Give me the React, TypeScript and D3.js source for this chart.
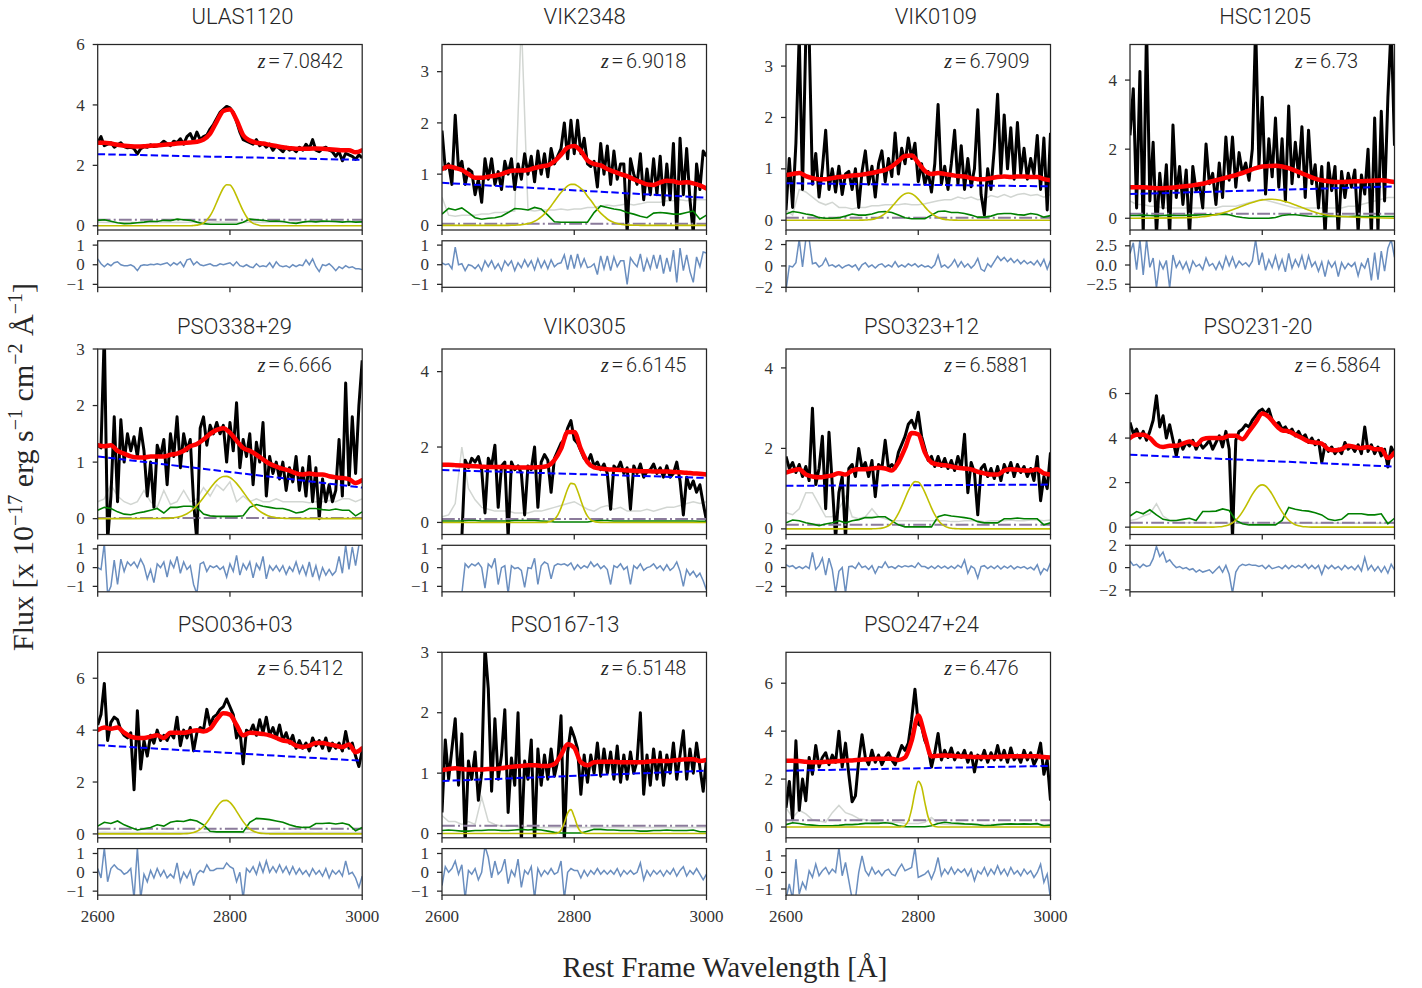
import React from "react";
import * as d3 from "d3";

// ---------------- grids (wavelength sampling of the arrays) ----------------
const WAVE_MIN = 2600;
const WAVE_MAX = 3000;
const FLUX_STEP = 5; // flux & residual arrays
const MODEL_STEP = 10; // model, error, Fe arrays
const MG_START = 2700; // Mg II gaussian arrays
const MG_STEP = 5;

// ---------------- panel meta ----------------
const names = ["ULAS1120", "VIK2348", "VIK0109", "HSC1205", "PSO338+29", "VIK0305", "PSO323+12", "PSO231-20", "PSO036+03", "PSO167-13", "PSO247+24"];
const redshifts = ["7.0842", "6.9018", "6.7909", "6.73", "6.666", "6.6145", "6.5881", "6.5864", "6.5412", "6.5148", "6.476"];
const yLims = [[-0.14, 6.0], [-0.09, 3.53], [-0.19, 3.42], [-0.34, 5.03], [-0.28, 3.0], [-0.32, 4.6], [-0.14, 4.47], [-0.33, 8.0], [-0.15, 7.0], [-0.07, 3.0], [-0.45, 7.29]];
const yTicks = [[0, 2, 4, 6], [0, 1, 2, 3], [0, 1, 2, 3], [0, 2, 4], [0, 1, 2, 3], [0, 2, 4], [0, 2, 4], [0, 2, 4, 6], [0, 2, 4, 6], [0, 1, 2, 3], [0, 2, 4, 6]];
const resLims = [[-1.15, 1.22], [-1.15, 1.22], [-2.0, 2.35], [-2.9, 3.15], [-1.29, 1.19], [-1.29, 1.19], [-2.57, 2.36], [-2.17, 2.0], [-1.21, 1.26], [-1.21, 1.26], [-1.37, 1.44]];
const resTicks = [[-1, 0, 1], [-1, 0, 1], [-2, 0, 2], [-2.5, 0, 2.5], [-1, 0, 1], [-1, 0, 1], [-2, 0, 2], [-2, 0, 2], [-1, 0, 1], [-1, 0, 1], [-1, 0, 1]];
const xTicks = [2600, 2800, 3000];
const continua = [[2.37, 2.18], [0.83, 0.54], [0.72, 0.66], [0.7, 0.92], [1.1, 0.55], [1.39, 1.18], [1.07, 1.1], [3.25, 2.72], [3.42, 2.82], [0.87, 1.04], [2.35, 2.55]];
const balmerLevels = [0.2, 0.03, 0.05, 0.13, 0.01, 0.09, 0.1, 0.2, 0.2, 0.13, 0.28];

// ---------------- ULAS1120 ----------------
const ulasFlux = [
  2.75, 2.95, 2.65, 2.7, 2.75, 2.6, 2.68, 2.75, 2.62, 2.58,
  2.6, 2.55, 2.38, 2.55, 2.62, 2.6, 2.68, 2.62, 2.65, 2.7,
  2.8, 2.72, 2.65, 2.8, 2.75, 2.88, 2.7, 2.95, 3.05, 2.8,
  3.1, 2.85, 2.95, 3.0, 3.2, 3.35, 3.55, 3.75, 3.85, 3.95,
  3.9, 3.75, 3.45, 3.1, 2.85, 2.8, 2.75, 2.7, 2.85, 2.65,
  2.72, 2.6, 2.7, 2.5, 2.65, 2.55, 2.45, 2.6, 2.5, 2.55,
  2.45, 2.6, 2.5, 2.7, 2.55, 2.85, 2.5, 2.45, 2.55, 2.6,
  2.5, 2.45, 2.3, 2.45, 2.15, 2.4, 2.35, 2.3, 2.2, 2.35,
  2.25];
const ulasResid = [
  0.3, 0.05, -0.1, 0.05, -0.05, 0.1, 0.15, 0, -0.05, -0.05,
  0, -0.1, -0.3, -0.05, 0, -0.02, 0.02, 0, 0.05, 0,
  0.05, 0.1, -0.05, 0.1, 0, 0.15, -0.1, 0.25, 0.3, 0,
  0.15, 0, -0.05, 0, 0.05, -0.05, -0.05, 0.05, 0, 0.05,
  0.1, -0.05, 0.15, -0.05, -0.1, 0, -0.1, -0.15, 0.05, -0.1,
  -0.05, -0.1, 0.1, -0.15, 0.15, -0.05, -0.1, -0.05, -0.15, 0,
  -0.1, 0, -0.05, 0.25, 0, 0.3, -0.1, -0.35, 0, -0.05,
  0.05, -0.1, -0.3, -0.1, -0.2, -0.05, -0.15, -0.1, -0.2, -0.2,
  -0.25];
const ulasModel = [2.75, 2.75, 2.72, 2.68, 2.65, 2.63, 2.62, 2.63, 2.65, 2.66, 2.68, 2.7, 2.72, 2.74, 2.76, 2.78, 2.85, 3.05, 3.45, 3.8, 3.85, 3.5, 3.0, 2.82, 2.75, 2.72, 2.68, 2.64, 2.6, 2.57, 2.55, 2.55, 2.55, 2.56, 2.55, 2.53, 2.52, 2.5, 2.5, 2.43, 2.5];
const ulasErr = [0.12, 0.11, 0.12, 0.1, 0.11, 0.12, 0.11, 0.1, 0.12, 0.11, 0.12, 0.11, 0.12, 0.11, 0.12, 0.13, 0.12, 0.12, 0.13, 0.12, 0.12, 0.12, 0.11, 0.12, 0.12, 0.11, 0.12, 0.12, 0.11, 0.12, 0.12, 0.12, 0.13, 0.12, 0.12, 0.13, 0.12, 0.13, 0.14, 0.13, 0.14];
const ulasFe = [0.18, 0.2, 0.15, 0.1, 0.07, 0.08, 0.1, 0.12, 0.15, 0.14, 0.18, 0.17, 0.22, 0.2, 0.18, 0.12, 0.07, 0.05, 0.05, 0.05, 0.05, 0.05, 0.12, 0.22, 0.2, 0.18, 0.15, 0.16, 0.14, 0.1, 0.08, 0.12, 0.15, 0.13, 0.16, 0.15, 0.14, 0.12, 0.14, 0.12, 0.13];
const ulasMg = [0, 0, 0, 0, 0, 0, 0, 0, 0, 0.01, 0.02, 0.04, 0.09, 0.19, 0.33, 0.53, 0.78, 1.03, 1.25, 1.36, 1.35, 1.21, 0.98, 0.73, 0.49, 0.3, 0.16, 0.08, 0.04, 0.01, 0, 0, 0, 0, 0, 0, 0, 0, 0, 0, 0];

// ---------------- VIK2348 ----------------
const v2348Flux = [
  1.85, 1.1, 1.2, 0.8, 2.15, 1.1, 1.25, 0.8, 1.1, 1.05,
  0.6, 0.9, 0.45, 1.3, 0.9, 1.3, 0.8, 1.05, 0.7, 1.25,
  1.0, 1.3, 0.7, 1.2, 0.9, 1.4, 1.0, 1.35, 0.85, 1.45,
  1.0, 1.4, 0.95, 1.5, 1.2, 1.35, 1.5, 2.0, 1.3, 2.05,
  1.4, 2.05, 1.4, 1.7, 1.2, 1.15, 1.25, 0.75, 1.6, 1.0,
  1.55, 0.8, 1.45, 0.9, 1.2, 1.2, -0.15, 1.3, 1.0, 0.8,
  1.4, 0.5, 1.1, 0.6, 1.3, 0.6, 1.35, 0.4, 1.2, 0.5,
  1.6, -0.15, 1.7, 0.6, 1.5, 0.5, -0.15, 1.2, 0.7, 1.45,
  1.35];
const v2348Resid = [
  0.1, 0, 0.05, -0.2, 0.9, 0, 0.05, -0.3, 0, -0.05,
  -0.2, 0, -0.3, 0.2, -0.1, 0.2, -0.2, 0.05, -0.3, 0.2,
  -0.05, 0.2, -0.3, 0.1, -0.15, 0.25, -0.1, 0.2, -0.25, 0.3,
  -0.15, 0.2, -0.2, 0.25, -0.1, 0.05, 0.1, 0.5, -0.25, 0.5,
  -0.2, 0.55, -0.1, 0.3, -0.15, -0.1, 0.05, -0.5, 0.45, -0.2,
  0.45, -0.3, 0.4, -0.1, 0.2, 0.2, -1.0, 0.35, 0.1, -0.1,
  0.55, -0.35, 0.3, -0.2, 0.5, -0.2, 0.5, -0.45, 0.35, -0.35,
  0.75, -0.9, 0.85, -0.3, 0.5, -0.35, -0.9, 0.4, -0.1, 0.65,
  0.6];
const v2348Model = [1.1, 1.15, 1.12, 1.08, 1.0, 0.93, 0.93, 0.95, 0.97, 1.0, 1.05, 1.07, 1.07, 1.08, 1.12, 1.15, 1.17, 1.25, 1.38, 1.52, 1.55, 1.45, 1.27, 1.2, 1.17, 1.1, 1.05, 1.0, 0.96, 0.9, 0.85, 0.8, 0.79, 0.84, 0.87, 0.86, 0.83, 0.84, 0.82, 0.78, 0.72];
const v2348Err = [0.55, 0.2, 0.18, 0.2, 0.2, 0.2, 0.22, 0.22, 0.25, 0.25, 0.27, 0.28, 4.0, 0.3, 0.28, 0.3, 0.3, 0.3, 0.32, 0.3, 0.32, 0.32, 0.35, 0.35, 0.38, 0.4, 0.38, 0.4, 0.42, 0.4, 0.42, 0.45, 0.45, 0.45, 0.48, 0.48, 0.5, 0.48, 0.5, 0.5, 0.5];
const v2348Fe = [0.22, 0.33, 0.3, 0.34, 0.25, 0.15, 0.12, 0.14, 0.15, 0.18, 0.25, 0.33, 0.32, 0.3, 0.35, 0.32, 0.2, 0.07, 0.06, 0.06, 0.06, 0.06, 0.06, 0.25, 0.38, 0.35, 0.32, 0.3, 0.25, 0.22, 0.18, 0.15, 0.24, 0.25, 0.24, 0.22, 0.22, 0.25, 0.28, 0.12, 0.2];
const v2348Mg = [0.001, 0.002, 0.004, 0.007, 0.012, 0.021, 0.034, 0.053, 0.08, 0.116, 0.165, 0.225, 0.3, 0.38, 0.47, 0.56, 0.64, 0.71, 0.77, 0.8, 0.8, 0.77, 0.72, 0.66, 0.57, 0.49, 0.4, 0.31, 0.24, 0.18, 0.125, 0.086, 0.057, 0.037, 0.023, 0.014, 0.008, 0.005, 0.003, 0.002, 0.001];

// ---------------- VIK0109 ----------------
const v0109Flux = [
  0.2, 1.2, 0.25, 1.5, 3.6, 0.6, 3.6, 3.6, 0.7, 1.3,
  0.45, 1.0, 1.75, 0.6, 1.0, 0.55, 1.05, 0.5, 0.9, 0.95,
  0.6, 1.0, 0.25, 0.95, 1.35, 0.7, 1.05, 0.45, 1.1, 1.35,
  0.75, 1.2, 0.85, 1.7, 0.9, 1.4, 1.1, 1.6, 1.2, 1.5,
  0.75, 1.1, 0.7, 0.95, 0.55, 1.1, 2.25, 0.7, 1.05, 0.6,
  1.1, 1.75, 0.7, 1.45, 0.6, 1.2, 0.65, 1.0, 2.15, 0.5,
  0.1, 1.0, 0.6, 1.4, 2.45, 0.9, 2.05, 1.0, 1.8, 0.8,
  1.9, 0.9, 1.4, 0.8, 1.2, 0.9, 1.65, 0.6, 1.6, 0.2,
  1.7];
const v0109Resid = [
  -2.3, 0, -0.1, 0.3, 2.5, -0.1, 2.5, 2.5, 0.2, 0.3,
  -0.1, 0.1, 0.7, 0, 0.1, -0.1, 0.1, -0.2, 0, 0.1,
  -0.1, 0.1, -0.4, 0.1, 0.3, -0.1, 0.1, -0.2, 0.1, 0.2,
  -0.1, 0.1, -0.1, 0.4, -0.1, 0.1, -0.1, 0.2, 0, 0.2,
  -0.1, 0.1, -0.1, 0, -0.2, 0.1, 1.0, -0.1, 0.1, -0.2,
  0.1, 0.6, -0.1, 0.4, -0.1, 0.2, -0.2, 0.1, 0.7, -0.3,
  -0.5, 0.2, -0.1, 0.4, 0.9, 0.5, 0.8, 0.4, 0.7, 0.3,
  0.6, 0.2, 0.5, 0.2, 0.4, 0.1, 0.5, 0, 0.6, -0.3,
  0.5];
const v0109Model = [0.88, 0.9, 0.92, 0.86, 0.82, 0.8, 0.8, 0.82, 0.84, 0.85, 0.87, 0.88, 0.9, 0.92, 0.95, 0.98, 1.05, 1.15, 1.25, 1.26, 1.12, 0.96, 0.9, 0.92, 0.9, 0.88, 0.86, 0.85, 0.82, 0.8, 0.8, 0.82, 0.84, 0.85, 0.84, 0.85, 0.85, 0.84, 0.84, 0.8, 0.78];
const v0109Err = [0.2, 0.1, 0.6, 0.55, 0.45, 0.35, 0.3, 0.35, 0.25, 0.25, 0.22, 0.25, 0.25, 0.28, 0.28, 0.3, 0.3, 0.3, 0.32, 0.3, 0.3, 0.32, 0.35, 0.38, 0.4, 0.4, 0.45, 0.42, 0.45, 0.4, 0.42, 0.48, 0.45, 0.5, 0.45, 0.5, 0.52, 0.48, 0.5, 0.45, 0.5];
const v0109Fe = [0.12, 0.17, 0.15, 0.12, 0.1, 0.05, 0.04, 0.04, 0.05, 0.08, 0.12, 0.1, 0.1, 0.12, 0.16, 0.17, 0.15, 0.1, 0.05, 0.03, 0.03, 0.03, 0.1, 0.17, 0.18, 0.15, 0.15, 0.13, 0.1, 0.06, 0.06, 0.08, 0.12, 0.13, 0.13, 0.11, 0.1, 0.13, 0.11, 0.06, 0.09];
const v0109Mg = [0, 0.0004, 0.001, 0.002, 0.004, 0.009, 0.017, 0.031, 0.053, 0.087, 0.132, 0.19, 0.26, 0.336, 0.41, 0.473, 0.515, 0.53, 0.515, 0.473, 0.41, 0.336, 0.26, 0.19, 0.132, 0.087, 0.053, 0.031, 0.017, 0.009, 0.004, 0.002, 0.001, 0, 0, 0, 0, 0, 0, 0, 0];

// ---------------- HSC1205 ----------------
const hscFlux = [
  2.4, 3.75, 0.3, 4.25, -0.5, 5.6, 0.5, 2.2, -0.5, 1.3,
  0.3, 1.55, -0.5, 2.7, 0.6, 1.5, 0.4, 1.4, -0.5, 1.5,
  0.8, 1.0, 0.3, 2.15, 1.0, 1.3, 0.4, 1.6, 0.6, 2.35,
  1.1, 2.35, 0.9, 1.9, 1.3, 1.6, 1.1, 2.0, 5.6, 1.5,
  3.5, 0.7, 2.3, 1.2, 2.9, 0.9, 2.3, 0.5, 3.25, 1.0,
  2.2, 1.2, 2.65, 0.6, 2.55, 1.0, 1.55, 0.3, 1.5, -0.5,
  1.6, 0.8, 1.5, -0.5, 1.35, 0.6, 1.3, 0.9, 1.4, -0.4,
  1.25, 0.7, 2.0, -0.5, 2.9, -0.4, 3.1, 0.5, 3.5, 5.6,
  2.1];
const hscResid = [
  1.5, 2.9, -0.6, 3.3, -1.3, 3.3, -0.3, 0.9, -3.0, 0.4,
  -0.5, 0.6, -3.0, 1.3, -0.3, 0.5, -0.5, 0.4, -0.9, 0.5,
  -0.2, 0.1, -0.6, 0.9, -0.1, 0.2, -0.6, 0.4, -0.5, 1.1,
  -0.1, 1.0, -0.3, 0.5, 0, 0.3, -0.2, 0.5, 3.3, 0,
  1.6, -0.7, 0.7, -0.3, 1.2, -0.5, 0.7, -0.9, 1.5, -0.4,
  0.7, -0.2, 1.2, -0.6, 1.2, -0.2, 0.4, -0.8, 0.4, -1.5,
  0.5, -0.3, 0.4, -1.5, 0.3, -0.5, 0.2, -0.2, 0.3, -1.4,
  0.2, -0.4, 0.9, -2.0, 1.6, -1.9, 1.8, -0.8, 2.2, 3.3,
  1.0];
const hscModel = [0.9, 0.9, 0.9, 0.88, 0.87, 0.87, 0.88, 0.9, 0.92, 0.94, 0.97, 1.0, 1.05, 1.1, 1.15, 1.2, 1.25, 1.31, 1.38, 1.45, 1.5, 1.51, 1.52, 1.5, 1.45, 1.38, 1.3, 1.22, 1.15, 1.1, 1.07, 1.05, 1.05, 1.06, 1.07, 1.07, 1.08, 1.09, 1.1, 1.08, 1.05];
const hscErr = [0.5, 0.4, 0.4, 0.35, 0.35, 0.3, 0.3, 0.3, 0.3, 0.3, 0.3, 0.3, 0.3, 0.3, 0.35, 0.35, 0.35, 0.4, 0.45, 0.5, 0.55, 0.5, 0.45, 0.4, 0.35, 0.3, 0.3, 0.3, 0.3, 0.3, 0.3, 0.3, 0.3, 0.35, 0.35, 0.4, 0.45, 0.5, 0.55, 0.6, 0.6];
const hscFe = [0.08, 0.08, 0.09, 0.08, 0.07, 0.08, 0.09, 0.08, 0.08, 0.09, 0.09, 0.1, 0.1, 0.1, 0.12, 0.1, 0.05, 0.02, 0, 0, 0, 0, 0.02, 0.08, 0.1, 0.1, 0.08, 0.06, 0.05, 0.05, 0.05, 0.05, 0.05, 0.05, 0.06, 0.05, 0.05, 0.05, 0.05, 0.05, 0.05];
const hscMg = [0.025, 0.033, 0.042, 0.054, 0.068, 0.085, 0.105, 0.127, 0.153, 0.182, 0.213, 0.247, 0.282, 0.319, 0.356, 0.392, 0.427, 0.459, 0.488, 0.512, 0.531, 0.543, 0.55, 0.55, 0.541, 0.527, 0.508, 0.483, 0.453, 0.42, 0.385, 0.349, 0.311, 0.275, 0.24, 0.206, 0.176, 0.147, 0.122, 0.1, 0.081];

// ---------------- PSO338+29 ----------------
const p338Flux = [
  1.3, 1.25, 3.3, -0.4, 0.4, 1.8, 0.3, 1.75, 1.0, 1.5,
  1.2, 1.45, 1.1, 1.6, 1.2, 0.4, 1.0, 0.2, 1.3, 1.1,
  1.4, 0.6, 1.5, 1.1, 1.8, 0.9, 1.5, 1.2, 1.4, 0.3,
  -0.4, 1.6, 1.8, 1.3, 1.65, 1.5, 1.7, 1.5, 1.65, 1.0,
  1.7, 1.2, 2.05, 0.9, 1.4, 1.1, 1.5, 0.6, 1.35, 1.0,
  1.7, 0.4, 1.1, 0.8, 1.0, 0.7, 1.0, 0.5, 0.9, 0.65,
  1.1, 0.5, 0.9, 0.4, 1.1, 0.3, 0.9, 0.0, 0.7, 0.3,
  0.6, 0.3, 0.5, 1.4, 0.4, 2.4, 0.6, 1.8, 0.8, 2.0,
  2.8];
const p338Resid = [
  0, -0.1, 1.3, -1.4, -1.0, 0.4, -0.9, 0.45, -0.2, 0.3,
  0.1, 0.3, 0, 0.45, 0.1, -0.6, -0.1, -0.8, 0.2, 0,
  0.3, -0.5, 0.35, 0, 0.6, -0.3, 0.3, -0.1, 0.1, -0.9,
  -1.4, 0.2, 0.3, -0.2, 0.1, 0, 0.1, -0.1, 0.05, -0.5,
  0.2, -0.2, 0.65, -0.4, 0.2, -0.1, 0.3, -0.55, 0.2, -0.1,
  0.6, -0.6, 0.1, -0.15, 0.1, -0.2, 0.1, -0.35, 0.05, -0.2,
  0.3, -0.3, 0.1, -0.4, 0.3, -0.5, 0.1, -0.6, 0, -0.4,
  -0.1, -0.4, -0.2, 0.6, -0.3, 1.2, -0.1, 1.1, 0.1, 1.2,
  1.2];
const p338Model = [1.3, 1.28, 1.3, 1.2, 1.15, 1.1, 1.08, 1.08, 1.1, 1.1, 1.1, 1.13, 1.15, 1.2, 1.28, 1.32, 1.4, 1.5, 1.57, 1.6, 1.52, 1.38, 1.25, 1.2, 1.13, 1.05, 0.97, 0.92, 0.88, 0.85, 0.8, 0.78, 0.8, 0.78, 0.78, 0.75, 0.73, 0.72, 0.7, 0.63, 0.68];
const p338Err = [0.3, 0.35, 0.6, 0.4, 0.3, 0.25, 0.3, 0.5, 0.3, 0.2, 0.5, 0.25, 0.3, 0.5, 0.3, 0.35, 0.55, 0.4, 0.6, 0.5, 0.65, 0.3, 0.4, 0.3, 0.35, 0.3, 0.3, 0.35, 0.3, 0.3, 0.3, 0.3, 0.28, 0.3, 0.3, 0.32, 0.3, 0.35, 0.35, 0.3, 0.35];
const p338Fe = [0.15, 0.2, 0.18, 0.12, 0.08, 0.07, 0.1, 0.12, 0.15, 0.18, 0.1, 0.2, 0.2, 0.22, 0.22, 0.2, 0.08, 0.05, 0.04, 0.04, 0.04, 0.04, 0.05, 0.2, 0.25, 0.22, 0.2, 0.18, 0.18, 0.15, 0.1, 0.12, 0.18, 0.18, 0.16, 0.15, 0.17, 0.15, 0.15, 0.05, 0.12];
const p338Mg = [0.003, 0.005, 0.009, 0.015, 0.025, 0.039, 0.06, 0.088, 0.125, 0.173, 0.231, 0.299, 0.375, 0.455, 0.535, 0.61, 0.673, 0.72, 0.746, 0.748, 0.727, 0.684, 0.624, 0.551, 0.471, 0.39, 0.313, 0.243, 0.183, 0.134, 0.095, 0.065, 0.043, 0.028, 0.017, 0.01, 0.006, 0.004, 0.002, 0.001, 0];

// ---------------- VIK0305 ----------------
const v0305Flux = [
  null, null, null, null, null, null, -0.4, 1.65, 1.45, 1.7,
  1.6, 1.75, 1.4, 0.25, 1.7, 1.5, 2.05, 0.4, 1.5, 1.6,
  -0.4, 1.6, 1.4, 1.5, 1.3, 0.2, 1.5, 1.4, 2.0, 0.4,
  1.6, 1.8, 1.65, 0.8, 1.7, 1.9, 2.1, 2.2, 2.5, 2.7,
  2.2, 2.1, 1.9, 1.7, 1.6, 1.8, 1.5, 1.6, 1.4, 1.55,
  1.3, 0.35, 1.5, 1.4, 1.6, 1.3, 1.45, 0.35, 1.5, 1.3,
  1.55, 1.2, 1.35, 1.4, 1.55, 1.3, 1.45, 1.2, 1.5, 1.2,
  1.3, 1.6, 1.1, 0.2, 1.2, 0.9, 1.1, 0.8, 1.0, 0.5,
  0.05];
const v0305Resid = [
  null, null, null, null, null, null, -1.4, 0.2, 0, 0.2,
  0.1, 0.25, 0, -1.1, 0.2, 0, 0.5, -0.9, 0, 0.1,
  -1.4, 0.1, -0.05, 0, -0.15, -1.05, 0, -0.05, 0.5, -0.9,
  0.1, 0.3, 0.2, -0.6, 0.1, 0.2, 0.15, 0.2, 0.1, 0.25,
  -0.1, 0.15, -0.05, 0.1, 0, 0.3, 0.05, 0.2, -0.05, 0.1,
  -0.1, -0.9, 0.1, 0, 0.2, -0.1, 0.05, -0.9, 0.1, -0.05,
  0.2, -0.15, 0, 0.05, 0.2, -0.05, 0.1, -0.15, 0.15, -0.15,
  0, 0.3, -0.2, -1.0, -0.1, -0.4, -0.2, -0.5, -0.3, -0.7,
  -1.2];
const v0305Model = [1.53, 1.53, 1.52, 1.51, 1.5, 1.49, 1.48, 1.47, 1.47, 1.47, 1.47, 1.46, 1.46, 1.46, 1.46, 1.47, 1.5, 1.65, 1.95, 2.4, 2.4, 1.95, 1.6, 1.46, 1.43, 1.41, 1.4, 1.39, 1.38, 1.37, 1.36, 1.36, 1.35, 1.35, 1.35, 1.34, 1.33, 1.32, 1.3, 1.29, 1.27];
const v0305Err = [0.15, 0.2, 0.5, 2.0, 0.9, 0.6, 0.4, 0.35, 0.3, 0.3, 0.3, 0.25, 0.25, 0.25, 0.3, 0.3, 0.35, 0.4, 0.45, 0.5, 0.55, 0.45, 0.35, 0.3, 0.4, 0.45, 0.35, 0.4, 0.3, 0.3, 0.3, 0.35, 0.3, 0.35, 0.4, 0.4, 0.45, 0.5, 0.55, 0.5, 0.55];
const v0305Fe = [0.04, 0.04, 0.04, 0.04, 0.05, 0.05, 0.04, 0.04, 0.04, 0.04, 0.04, 0.05, 0.05, 0.05, 0.05, 0.04, 0.03, 0.01, 0.01, 0.01, 0.01, 0.01, 0.01, 0.04, 0.05, 0.05, 0.04, 0.04, 0.04, 0.04, 0.04, 0.04, 0.04, 0.04, 0.04, 0.04, 0.04, 0.04, 0.04, 0.03, 0.03];
const v0305Mg = [0, 0, 0, 0, 0, 0, 0, 0, 0, 0, 0, 0.002, 0.009, 0.03, 0.084, 0.196, 0.385, 0.637, 0.886, 1.035, 1.018, 0.841, 0.584, 0.341, 0.167, 0.069, 0.024, 0.007, 0.002, 0, 0, 0, 0, 0, 0, 0, 0, 0, 0, 0, 0];

// ---------------- PSO323+12 ----------------
const p323Flux = [
  1.8, 1.5, 1.65, 1.4, 1.6, 1.3, 1.55, 1.2, 3.0, 1.1,
  1.5, 2.3, 0.5, 2.4, 1.1, -0.25, 0.9, 1.3, -0.25, 1.5,
  1.6, 1.3, 2.0, 1.5, 1.65, 1.3, 1.7, 0.8, 1.6, 1.5,
  2.2, 1.5, 1.6, 1.5, 1.9, 2.1, 2.3, 2.6, 2.7, 2.5,
  2.9, 2.3, 2.0, 1.7, 1.8, 1.55, 1.8, 1.55, 1.75, 1.5,
  1.7, 1.45, 1.8, 1.5, 2.35, 0.9, 1.65, 1.4, 0.35, 1.5,
  1.6, 1.3, 1.5, 1.25, 1.55, 1.2, 1.6, 1.4, 1.65, 1.3,
  1.6, 1.4, 1.55, 1.3, 1.5, 1.2, 1.8, 0.7, 1.3, 1.0,
  1.9];
const p323Resid = [
  0.3, 0.1, 0.2, -0.1, 0.1, -0.1, 0.15, -0.1, 1.6, -0.2,
  0.2, 1.0, -0.8, 1.0, -0.2, -2.7, -0.4, 0, -2.7, 0.1,
  0.15, -0.1, 0.5, 0, 0.15, -0.2, 0.2, -0.6, 0.1, 0,
  0.6, 0, 0.1, -0.1, 0.2, 0.05, 0.2, 0.1, 0.2, 0,
  0.5, 0.1, 0.1, -0.1, 0.15, -0.1, 0.2, -0.05, 0.15, -0.1,
  0.15, -0.1, 0.25, 0, 0.8, -0.6, 0.15, -0.1, -1.1, 0.1,
  0.2, -0.1, 0.15, -0.1, 0.2, -0.15, 0.15, -0.05, 0.2, -0.15,
  0.1, -0.05, 0.1, -0.15, 0.05, -0.25, 0.3, -0.7, -0.1, -0.35,
  0.5];
const p323Model = [1.4, 1.45, 1.48, 1.35, 1.3, 1.28, 1.3, 1.33, 1.38, 1.35, 1.45, 1.48, 1.48, 1.5, 1.52, 1.5, 1.45, 1.65, 2.0, 2.38, 2.35, 1.9, 1.65, 1.6, 1.58, 1.55, 1.52, 1.5, 1.48, 1.42, 1.38, 1.35, 1.35, 1.45, 1.48, 1.47, 1.45, 1.45, 1.48, 1.38, 1.35];
const p323Err = [0.4, 0.35, 0.5, 0.9, 0.9, 0.6, 0.3, 0.3, 0.5, 0.8, 0.3, 0.25, 0.3, 0.5, 0.3, 0.25, 0.2, 0.2, 0.2, 0.2, 0.2, 0.2, 0.2, 0.2, 0.2, 0.18, 0.18, 0.2, 0.2, 0.2, 0.18, 0.2, 0.2, 0.2, 0.22, 0.2, 0.2, 0.22, 0.22, 0.2, 0.22];
const p323Fe = [0.15, 0.22, 0.2, 0.15, 0.12, 0.08, 0.12, 0.15, 0.2, 0.15, 0.2, 0.23, 0.28, 0.28, 0.3, 0.3, 0.2, 0.1, 0.05, 0.05, 0.05, 0.05, 0.05, 0.3, 0.35, 0.32, 0.3, 0.28, 0.25, 0.18, 0.15, 0.15, 0.15, 0.25, 0.25, 0.27, 0.25, 0.25, 0.25, 0.1, 0.15];
const p323Mg = [0, 0, 0, 0, 0, 0, 0.001, 0.003, 0.008, 0.018, 0.039, 0.078, 0.143, 0.243, 0.383, 0.559, 0.756, 0.945, 1.094, 1.173, 1.164, 1.069, 0.909, 0.716, 0.522, 0.352, 0.22, 0.127, 0.068, 0.034, 0.015, 0.007, 0.003, 0, 0, 0, 0, 0, 0, 0, 0];

// ---------------- PSO231-20 ----------------
const p231Flux = [
  4.7, 4.2, 4.4, 4.0, 4.3, 3.9, 4.3, 4.8, 5.9, 4.5,
  5.0, 4.0, 4.6, 3.9, 3.2, 3.9, 3.5, 3.8, 3.65, 3.9,
  3.5, 3.8, 3.55, 3.7, 3.9, 3.5, 3.8, 4.1, 3.6, 4.3,
  3.5, -0.5, 3.9, 4.3, 4.4, 4.6, 4.5, 4.8, 5.0, 5.2,
  5.3, 5.1, 5.3, 4.8, 4.6, 4.7, 4.4, 4.5, 4.25, 4.4,
  4.1, 4.3, 4.0, 4.15, 3.8, 4.0, 3.7, 3.9, 2.9, 3.7,
  3.4, 3.6, 3.3, 3.5, 3.3, 3.8, 3.5, 3.65, 3.4, 3.7,
  3.3, 4.5, 3.4, 3.7, 3.3, 3.6, 3.2, 3.5, 2.7, 3.6,
  3.3];
const p231Resid = [
  0.6, 0.2, 0.3, 0, 0.3, 0.1, 0.2, 0.8, 1.9, 1.0,
  1.4, 0.5, 0.7, 0.3, 0, 0.1, -0.1, 0, -0.2, -0.1,
  -0.4, -0.2, -0.4, -0.3, -0.2, -0.5, -0.2, 0.1, -0.4, 0.2,
  -0.6, -2.3, -0.4, 0.1, 0.3, 0.2, 0.3, 0.2, 0.2, 0.1,
  0.2, -0.1, 0.2, -0.1, 0, 0.1, -0.1, 0.2, -0.1, 0.2,
  0, 0.2, 0, 0.3, -0.1, 0.2, -0.1, 0.2, -0.6, 0.2,
  -0.1, 0.2, -0.1, 0.1, -0.2, 0.2, -0.1, 0.1, -0.2, 0.2,
  -0.3, 0.9, -0.2, 0.2, -0.3, 0.1, -0.4, 0.1, -0.5, 0.3,
  -0.2];
const p231Model = [4.0, 4.15, 4.15, 4.0, 3.7, 3.6, 3.65, 3.65, 3.75, 3.85, 3.7, 3.95, 4.0, 4.0, 4.0, 4.1, 4.1, 3.95, 4.3, 4.7, 5.1, 4.95, 4.6, 4.35, 4.3, 4.15, 4.0, 3.85, 3.8, 3.75, 3.5, 3.45, 3.5, 3.65, 3.6, 3.55, 3.6, 3.5, 3.5, 3.1, 3.35];
const p231Err = [0.3, 0.35, 0.5, 0.6, 1.05, 0.5, 0.3, 0.2, 0.2, 0.2, 0.2, 0.2, 0.2, 0.18, 0.18, 0.18, 0.18, 0.18, 0.18, 0.18, 0.18, 0.18, 0.18, 0.18, 0.18, 0.18, 0.18, 0.18, 0.18, 0.18, 0.18, 0.18, 0.18, 0.18, 0.18, 0.18, 0.18, 0.18, 0.18, 0.18, 0.18];
const p231Fe = [0.5, 0.7, 0.6, 0.78, 0.55, 0.35, 0.3, 0.3, 0.35, 0.4, 0.3, 0.7, 0.7, 0.72, 0.82, 0.75, 0.3, 0.15, 0.1, 0.1, 0.1, 0.1, 0.1, 0.3, 0.88, 0.8, 0.75, 0.72, 0.65, 0.55, 0.35, 0.3, 0.35, 0.6, 0.6, 0.6, 0.55, 0.55, 0.6, 0.15, 0.4];
const p231Mg = [0, 0, 0, 0.001, 0.001, 0.003, 0.007, 0.016, 0.032, 0.062, 0.112, 0.191, 0.31, 0.474, 0.685, 0.935, 1.207, 1.472, 1.696, 1.847, 1.9, 1.847, 1.696, 1.472, 1.207, 0.935, 0.685, 0.474, 0.31, 0.191, 0.112, 0.062, 0.032, 0.016, 0.007, 0.003, 0.001, 0, 0, 0, 0];

// ---------------- PSO036+03 ----------------
const p036Flux = [
  4.2, 4.6, 5.8, 3.6, 4.3, 4.5, 4.4, 4.0, 3.8, 3.7,
  3.9, 1.7, 4.75, 2.5, 3.6, 3.0, 3.8, 3.5, 4.0, 3.6,
  3.8, 3.6, 3.9, 3.7, 4.5, 3.4, 4.0, 3.7, 4.1, 3.2,
  3.9, 4.1, 4.0, 4.8, 4.2, 4.5, 4.6, 4.8, 4.9, 5.2,
  4.9, 4.6, 3.7, 4.0, 2.7, 4.0, 3.9, 4.2, 3.8, 4.4,
  3.9, 4.5, 3.8, 4.1, 3.7, 4.2, 3.6, 3.9, 3.5, 3.8,
  3.3, 3.6, 3.3, 3.5, 3.2, 3.7, 3.4, 3.6, 3.3, 3.7,
  3.2, 3.5, 3.3, 3.5, 3.2, 3.95, 3.3, 3.5, 3.0, 2.6,
  3.2];
const p036Resid = [
  0.2, -0.3, 1.3, -0.5, 0.2, 0.4, 0.2, 0.1, -0.1, 0,
  0.2, -1.4, 1.3, -1.4, -0.1, -0.5, 0.1, -0.3, 0.2, -0.2,
  0.1, -0.3, -0.1, -0.3, 0.5, -0.5, 0, -0.3, 0.1, -0.7,
  -0.1, 0.1, 0, 0.4, 0.1, 0.1, 0.2, 0.2, 0.2, 0.5,
  0.3, 0.2, -0.5, 0, -1.4, 0.2, 0, 0.3, -0.1, 0.5,
  0, 0.6, 0, 0.3, 0, 0.4, 0, 0.3, -0.1, 0.3,
  -0.1, 0.2, -0.1, 0.1, -0.2, 0.2, -0.1, 0.1, -0.2, 0.2,
  -0.3, 0.1, -0.1, 0.1, -0.2, 0.6, -0.1, 0, -0.3, -0.8,
  -0.2];
const p036Model = [4.0, 4.1, 4.05, 4.1, 3.9, 3.75, 3.7, 3.7, 3.75, 3.8, 3.7, 3.9, 3.9, 3.9, 3.95, 4.0, 3.95, 4.05, 4.4, 4.65, 4.6, 4.2, 3.8, 3.9, 3.88, 3.85, 3.8, 3.7, 3.6, 3.55, 3.4, 3.35, 3.4, 3.5, 3.5, 3.45, 3.4, 3.35, 3.45, 3.15, 3.3];
const p036Err = [0.05, 0.06, 0.05, 0.05, 0.06, 0.05, 0.05, 0.04, 0.05, 0.05, 0.05, 0.04, 0.05, 0.05, 0.05, 0.04, 0.05, 0.05, 0.06, 0.05, 0.05, 0.05, 0.04, 0.05, 0.05, 0.05, 0.04, 0.05, 0.05, 0.04, 0.05, 0.05, 0.05, 0.04, 0.05, 0.05, 0.05, 0.05, 0.04, 0.05, 0.05];
const p036Fe = [0.3, 0.45, 0.4, 0.5, 0.35, 0.25, 0.15, 0.2, 0.25, 0.35, 0.3, 0.45, 0.5, 0.48, 0.55, 0.5, 0.35, 0.1, 0.08, 0.08, 0.08, 0.08, 0.08, 0.45, 0.6, 0.58, 0.55, 0.5, 0.45, 0.35, 0.28, 0.25, 0.25, 0.4, 0.4, 0.42, 0.38, 0.42, 0.35, 0.12, 0.25];
const p036Mg = [0, 0, 0, 0.001, 0.001, 0.002, 0.005, 0.012, 0.027, 0.053, 0.1, 0.176, 0.288, 0.439, 0.625, 0.83, 1.029, 1.19, 1.284, 1.293, 1.215, 1.065, 0.871, 0.665, 0.473, 0.315, 0.195, 0.113, 0.061, 0.031, 0.014, 0.006, 0.003, 0.001, 0, 0, 0, 0, 0, 0, 0];

// ---------------- PSO167-13 ----------------
const p167Flux = [
  0.35, 1.55, 0.9, 1.4, 1.9, 0.8, 1.65, -0.15, 1.2, 0.9,
  1.35, 0.55, 1.0, 3.1, 2.4, 0.7, 1.9, 0.9, 1.3, 2.05,
  0.35, 1.25, 0.8, 2.0, -0.15, 1.2, 0.9, 1.55, -0.15, 1.4,
  0.8, 1.3, 0.9, 1.4, 0.95, 1.2, 1.95, -0.15, 1.35, 1.75,
  1.6, 1.4, 0.65, 1.3, 0.85, 1.3, 1.0, 1.5, 0.95, 1.4,
  1.0, 1.35, 0.9, 1.45, 0.85, 1.3, 0.9, 1.35, 1.0, 1.2,
  2.0, 0.65, 1.3, 0.8, 1.4, 0.9, 1.35, 0.8, 1.3, 1.0,
  1.5, 0.9, 1.3, 1.7, 0.9, 1.4, 1.0, 1.5, 1.1, 0.7,
  1.25];
const p167Resid = [
  -0.7, 0.3, 0, 0.2, 0.6, -0.1, 0.4, -1.4, 0.1, -0.1,
  0.2, -0.4, 0, 1.4, 0.8, -0.3, 0.6, -0.1, 0.1, 0.7,
  -0.6, 0.1, -0.2, 0.7, -0.8, 0.1, -0.1, 0.3, -1.4, 0.2,
  -0.2, 0.1, -0.1, 0.2, -0.1, 0, 0.6, -1.4, 0, 0.2,
  0.1, 0.1, -0.3, 0.1, -0.2, 0.1, -0.1, 0.2, -0.1, 0.1,
  -0.1, 0.1, -0.1, 0.2, -0.2, 0.1, -0.1, 0.1, -0.1, 0,
  0.5, -0.4, 0.1, -0.2, 0.1, -0.1, 0.1, -0.2, 0.1, -0.1,
  0.2, -0.2, 0.1, 0.3, -0.2, 0.1, -0.1, 0.2, -0.1, -0.4,
  -0.1];
const p167Model = [1.05, 1.07, 1.08, 1.07, 1.06, 1.06, 1.06, 1.07, 1.07, 1.08, 1.1, 1.11, 1.12, 1.13, 1.13, 1.12, 1.12, 1.15, 1.3, 1.48, 1.42, 1.18, 1.13, 1.18, 1.19, 1.19, 1.19, 1.18, 1.18, 1.18, 1.18, 1.19, 1.2, 1.2, 1.2, 1.21, 1.22, 1.23, 1.23, 1.2, 1.22];
const p167Err = [0.3, 0.2, 0.2, 0.15, 0.2, 0.15, 0.6, 0.2, 0.15, 0.12, 0.12, 0.12, 0.1, 0.12, 0.1, 0.1, 0.1, 0.1, 0.1, 0.1, 0.1, 0.1, 0.1, 0.1, 0.1, 0.1, 0.1, 0.1, 0.1, 0.1, 0.1, 0.1, 0.1, 0.1, 0.1, 0.1, 0.1, 0.1, 0.1, 0.1, 0.1];
const p167Fe = [0.05, 0.06, 0.05, 0.04, 0.04, 0.05, 0.05, 0.06, 0.06, 0.05, 0.05, 0.06, 0.07, 0.06, 0.07, 0.06, 0.04, 0.02, 0.01, 0.01, 0.01, 0.01, 0.04, 0.07, 0.07, 0.06, 0.06, 0.05, 0.05, 0.05, 0.04, 0.04, 0.05, 0.05, 0.06, 0.05, 0.05, 0.05, 0.06, 0.03, 0.03];
const p167Mg = [0, 0, 0, 0, 0, 0, 0, 0, 0, 0, 0, 0, 0, 0, 0.001, 0.01, 0.054, 0.175, 0.34, 0.396, 0.277, 0.116, 0.029, 0.004, 0, 0, 0, 0, 0, 0, 0, 0, 0, 0, 0, 0, 0, 0, 0, 0, 0];

// ---------------- PSO247+24 ----------------
const p247Flux = [
  0.8, 1.9, 0.3, 3.6, 0.7, 2.0, 1.1, 2.9, 2.2, 3.4,
  2.5, 2.9, 3.1, 2.6, 3.0, 2.7, 4.0, 2.5, 3.5, 2.2,
  1.05, 1.3, 2.8, 3.85, 2.9, 2.6, 3.2, 2.7, 3.0, 2.6,
  2.9, 3.1, 2.8, 2.6, 3.0, 3.4, 3.2, 3.5, 4.5, 5.75,
  4.3, 4.2, 3.6, 3.3, 2.5, 3.1, 3.9, 2.8, 3.2, 2.9,
  3.3, 2.8, 3.1, 2.9, 3.2, 2.7, 3.1, 2.3, 3.0, 2.8,
  3.2, 2.7, 3.1, 2.8, 3.4, 2.8, 3.2, 2.7, 3.3, 2.8,
  3.0, 2.7, 3.2, 2.8, 3.1, 2.6, 2.9, 3.5, 2.2, 2.8,
  1.1];
const p247Resid = [
  -1.6, -0.7, -1.6, 0.8, -1.3, -0.6, -1.0, 0.1, -0.3, 0.5,
  -0.2, 0.1, 0.3, -0.1, 0.2, 0, 1.5, -0.2, 0.6, -0.5,
  -1.6, -1.6, 0, 1.0, 0.1, -0.2, 0.3, -0.1, 0.1, -0.2,
  0.1, 0.2, -0.1, -0.2, 0.2, 0.5, 0.1, 0.2, 0.3, 1.5,
  -0.3, -0.2, -0.1, 0.1, -0.4, 0.1, 0.9, -0.2, 0.2, -0.1,
  0.3, -0.1, 0.2, 0, 0.2, -0.2, 0.2, -0.5, 0.1, -0.1,
  0.3, -0.2, 0.2, -0.1, 0.4, -0.1, 0.2, -0.2, 0.3, -0.1,
  0.1, -0.2, 0.2, -0.1, 0.1, -0.3, 0, 0.5, -0.6, -0.1,
  -1.6];
const p247Model = [2.77, 2.76, 2.75, 2.72, 2.7, 2.7, 2.72, 2.73, 2.75, 2.77, 2.78, 2.8, 2.82, 2.84, 2.85, 2.85, 2.85, 2.8, 2.9, 3.6, 4.65, 3.8, 2.95, 2.97, 2.98, 2.97, 2.95, 2.94, 2.93, 2.92, 2.92, 2.92, 2.93, 2.94, 2.95, 2.95, 2.95, 2.95, 2.95, 2.92, 2.9];
const p247Err = [0.8, 0.4, 0.7, 0.55, 0.3, 0.25, 0.2, 0.6, 0.9, 0.6, 0.5, 0.35, 0.3, 0.25, 0.2, 0.2, 0.2, 0.2, 0.15, 0.15, 0.15, 0.2, 0.4, 0.15, 0.12, 0.1, 0.1, 0.1, 0.1, 0.1, 0.1, 0.1, 0.1, 0.1, 0.1, 0.1, 0.1, 0.1, 0.1, 0.1, 0.1];
const p247Fe = [0.1, 0.18, 0.15, 0.1, 0.08, 0.05, 0.05, 0.05, 0.07, 0.1, 0.1, 0.12, 0.15, 0.15, 0.15, 0.18, 0.15, 0.05, 0.01, 0.01, 0.01, 0.01, 0.05, 0.15, 0.2, 0.17, 0.15, 0.13, 0.12, 0.1, 0.05, 0.07, 0.1, 0.12, 0.13, 0.12, 0.13, 0.12, 0.14, 0.05, 0.08];
const p247Mg = [0, 0, 0, 0, 0, 0, 0, 0, 0, 0, 0, 0, 0, 0, 0.001, 0.01, 0.061, 0.26, 0.746, 1.45, 1.905, 1.694, 1.02, 0.415, 0.114, 0.021, 0.003, 0, 0, 0, 0, 0, 0, 0, 0, 0, 0, 0, 0, 0, 0];

// ---------------- tables built from the arrays ----------------
const fluxes = [ulasFlux, v2348Flux, v0109Flux, hscFlux, p338Flux, v0305Flux, p323Flux, p231Flux, p036Flux, p167Flux, p247Flux];
const resids = [ulasResid, v2348Resid, v0109Resid, hscResid, p338Resid, v0305Resid, p323Resid, p231Resid, p036Resid, p167Resid, p247Resid];
const models = [ulasModel, v2348Model, v0109Model, hscModel, p338Model, v0305Model, p323Model, p231Model, p036Model, p167Model, p247Model];
const errors = [ulasErr, v2348Err, v0109Err, hscErr, p338Err, v0305Err, p323Err, p231Err, p036Err, p167Err, p247Err];
const feTemplates = [ulasFe, v2348Fe, v0109Fe, hscFe, p338Fe, v0305Fe, p323Fe, p231Fe, p036Fe, p167Fe, p247Fe];
const mgLines = [ulasMg, v2348Mg, v0109Mg, hscMg, p338Mg, v0305Mg, p323Mg, p231Mg, p036Mg, p167Mg, p247Mg];

// ---------------- layout ----------------
const COL_LEFT = [97.7, 442, 786, 1130];
const ROW_TOP = [44.5, 349, 652.3];
const TITLE_BASE = [24, 333.5, 631.5];
const TITLE_X = [242.5, 584.7, 935.8, 1265, 234.5, 584.7, 921.5, 1258, 235.2, 565, 921.5];
const Z_OFF = [160, 159, 158.3, 165];
const PW = 264.5;
const MAIN_H = 185.5;
const RES_OFF = 196.3;
const RES_H = 46.5;
const AX = "#262626";
const SERIF = "'Liberation Serif', 'DejaVu Serif', serif";
const SANS = "Roboto, 'Liberation Sans', 'DejaVu Sans', sans-serif";

const onGrid = (arr, start, step) => arr.map((v, k) => [start + k * step, v]);
const fmtTick = (ticks) => {
  const nonInt = ticks.some((t) => !Number.isInteger(t));
  const f = nonInt ? d3.format(".1f") : d3.format("d");
  return (t) => f(t).replace("-", "\u2212");
};

function Panel({ i }) {
  const row = Math.floor(i / 4);
  const col = i % 4;
  const x0 = COL_LEFT[col];
  const y0 = ROW_TOP[row];
  const ry0 = y0 + RES_OFF;
  const x = d3.scaleLinear().domain([WAVE_MIN, WAVE_MAX]).range([x0, x0 + PW]);
  const y = d3.scaleLinear().domain(yLims[i]).range([y0 + MAIN_H, y0]);
  const yr = d3.scaleLinear().domain(resLims[i]).range([ry0 + RES_H, ry0]);

  const lin = d3.line().defined((d) => d[1] != null).x((d) => x(d[0])).y((d) => y(d[1]));
  const smooth = d3.line().curve(d3.curveMonotoneX).x((d) => x(d[0])).y((d) => y(d[1]));
  const linR = d3.line().defined((d) => d[1] != null).x((d) => x(d[0])).y((d) => yr(d[1]));

  const fluxPts = onGrid(fluxes[i], WAVE_MIN, FLUX_STEP);
  const residPts = onGrid(resids[i], WAVE_MIN, FLUX_STEP);
  const modelPts = onGrid(models[i], WAVE_MIN, MODEL_STEP);
  const errPts = onGrid(errors[i], WAVE_MIN, MODEL_STEP);
  const fePts = onGrid(feTemplates[i], WAVE_MIN, MODEL_STEP);
  const mgPts = [[WAVE_MIN, 0], ...onGrid(mgLines[i], MG_START, MG_STEP), [WAVE_MAX, 0]];
  const contPts = [[WAVE_MIN, continua[i][0]], [WAVE_MAX, continua[i][1]]];
  const balPts = [[WAVE_MIN, balmerLevels[i]], [WAVE_MAX, balmerLevels[i]]];

  const fy = fmtTick(yTicks[i]);
  const fr = fmtTick(resTicks[i]);
  const cm = `clipm${i}`;
  const cr = `clipr${i}`;
  const showX = row === 2;

  return (
    <g>
      <defs>
        <clipPath id={cm}>
          <rect x={x0} y={y0} width={PW} height={MAIN_H} />
        </clipPath>
        <clipPath id={cr}>
          <rect x={x0} y={ry0} width={PW} height={RES_H} />
        </clipPath>
      </defs>
      <text x={TITLE_X[i]} y={TITLE_BASE[row]} textAnchor="middle" fontFamily={SANS} fontWeight={300} fontSize={22} fill={AX}>
        {names[i]}
      </text>
      <g clipPath={`url(#${cm})`} fill="none">
        <path d={lin(errPts)} stroke="#d2d6d2" strokeWidth={1.5} />
        <path d={lin(fluxPts)} stroke="#000" strokeWidth={3} strokeLinejoin="round" />
        <path d={smooth(modelPts)} stroke="#ff0000" strokeWidth={4.5} strokeLinejoin="round" strokeLinecap="round" />
        <path d={lin(contPts)} stroke="#0000ff" strokeWidth={2} strokeDasharray="7.4,3.2" />
        <path d={lin(balPts)} stroke="#8b7b9b" strokeWidth={2} strokeDasharray="12.8,3.2,2,3.2" />
        <path d={lin(fePts)} stroke="#008000" strokeWidth={1.6} />
        <path d={smooth(mgPts)} stroke="#bfbf00" strokeWidth={1.6} />
      </g>
      <g clipPath={`url(#${cr})`} fill="none">
        <path d={linR(residPts)} stroke="#6a8ebf" strokeWidth={1.5} />
      </g>
      <rect x={x0} y={y0} width={PW} height={MAIN_H} fill="none" stroke={AX} strokeWidth={1.25} />
      <rect x={x0} y={ry0} width={PW} height={RES_H} fill="none" stroke={AX} strokeWidth={1.25} />
      {yTicks[i].map((t) => (
        <g key={`yt${t}`}>
          <line x1={x0 - 5} x2={x0} y1={y(t)} y2={y(t)} stroke={AX} strokeWidth={1.25} />
          <text x={x0 - 13} y={y(t)} dy="0.33em" textAnchor="end" fontFamily={SERIF} fontSize={17} fill="#333">
            {fy(t)}
          </text>
        </g>
      ))}
      {resTicks[i].map((t) => (
        <g key={`rt${t}`}>
          <line x1={x0 - 5} x2={x0} y1={yr(t)} y2={yr(t)} stroke={AX} strokeWidth={1.25} />
          <text x={x0 - 13} y={yr(t)} dy="0.33em" textAnchor="end" fontFamily={SERIF} fontSize={17} fill="#333">
            {fr(t)}
          </text>
        </g>
      ))}
      {xTicks.map((t) => (
        <g key={`xt${t}`}>
          <line x1={x(t)} x2={x(t)} y1={y0 + MAIN_H} y2={y0 + MAIN_H + 5} stroke={AX} strokeWidth={1.25} />
          <line x1={x(t)} x2={x(t)} y1={ry0 + RES_H} y2={ry0 + RES_H + 5} stroke={AX} strokeWidth={1.25} />
          {showX && (
            <text x={x(t)} y={ry0 + RES_H + 27} textAnchor="middle" fontFamily={SERIF} fontSize={17} fill="#333">
              {t}
            </text>
          )}
        </g>
      ))}
      <text x={x0 + Z_OFF[col]} y={y0 + 23} fill={AX}>
        <tspan fontFamily={SERIF} fontStyle="italic" fontSize={20}>z</tspan>
        <tspan fontFamily={SERIF} fontSize={20} dx={3}>=</tspan>
        <tspan fontFamily={SANS} fontWeight={300} fontSize={20} dx={3}>{redshifts[i]}</tspan>
      </text>
    </g>
  );
}

export default function App() {
  return (
    <svg width={1422} height={988} style={{ position: "absolute", left: 0, top: 0, background: "#fff" }}>
      <rect x={0} y={0} width={1422} height={988} fill="#fff" />
      {names.map((n, i) => (
        <Panel key={n} i={i} />
      ))}
      <text x={725} y={977} textAnchor="middle" fontFamily={SERIF} fontSize={29} fill={AX}>
        Rest Frame Wavelength [Å]
      </text>
      <text transform="translate(33,467) rotate(-90)" textAnchor="middle" fontFamily={SERIF} fontSize={30} fill={AX}>
        <tspan>Flux [x 10</tspan>
        <tspan fontSize={20} dy={-11}>−17</tspan>
        <tspan dy={11}> erg s</tspan>
        <tspan fontSize={20} dy={-11}>−1</tspan>
        <tspan dy={11}> cm</tspan>
        <tspan fontSize={20} dy={-11}>−2</tspan>
        <tspan dy={11}> Å</tspan>
        <tspan fontSize={20} dy={-11}>−1</tspan>
        <tspan dy={11}>]</tspan>
      </text>
    </svg>
  );
}
